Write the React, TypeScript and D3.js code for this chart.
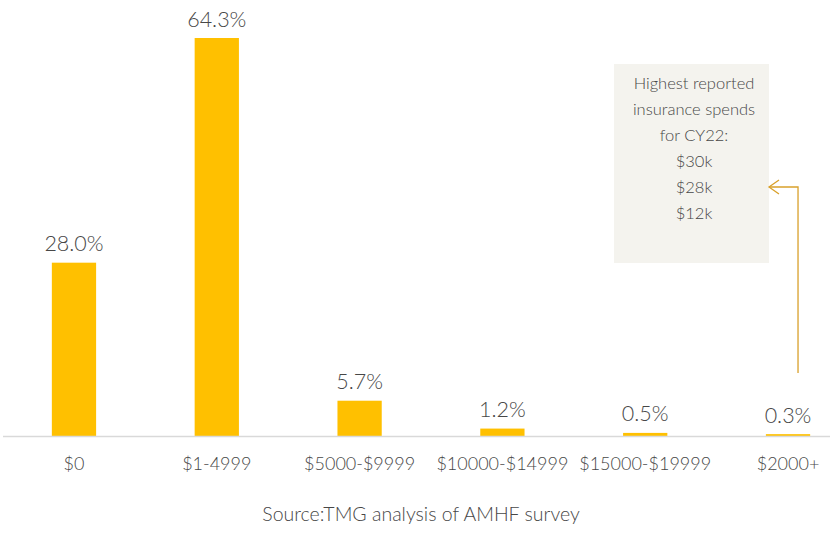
import React, { useEffect, useRef } from "react";
import * as d3 from "d3";

const categories = ["$0", "$1-4999", "$5000-$9999", "$10000-$14999", "$15000-$19999", "$2000+"];
const shares = [28.0, 64.3, 5.7, 1.2, 0.5, 0.3];
const noteLines = ["Highest reported", "insurance spends", "for CY22:", "$30k", "$28k", "$12k"];
const sourceText = "Source:TMG analysis of AMHF survey";

const width = 830;
const height = 533;
const baseY = 436;
const font = "Lato, 'Open Sans', sans-serif";
const textColor = "#474747";

function App() {
  const ref = useRef<SVGSVGElement>(null);

  useEffect(() => {
    const svg = d3.select(ref.current);
    svg.selectAll("*").remove();

    // x band scale for bars
    const x = d3
      .scaleBand()
      .domain(categories)
      .range([8, 854])
      .paddingInner(0.69)
      .paddingOuter(0.307);

    const y = d3.scaleLinear().domain([0, 64.3]).range([baseY, 38]);

    // bars
    svg
      .selectAll(".bar")
      .data(shares)
      .join("rect")
      .attr("class", "bar")
      .attr("x", (d, i) => x(categories[i]))
      .attr("y", (d) => y(d))
      .attr("width", x.bandwidth())
      .attr("height", (d) => baseY - y(d))
      .attr("fill", "#ffc000");

    // value labels
    svg
      .selectAll(".val")
      .data(shares)
      .join("text")
      .attr("class", "val")
      .attr("x", (d, i) => x(categories[i]) + x.bandwidth() / 2)
      .attr("y", (d) => y(d) - 11.5)
      .attr("text-anchor", "middle")
      .attr("font-size", 21.5)
      .attr("font-weight", 300)
      .attr("font-family", font)
      .attr("fill", textColor)
      .text((d) => d.toFixed(1) + "%");

    // baseline
    svg
      .append("line")
      .attr("x1", 3)
      .attr("x2", width)
      .attr("y1", baseY + 0.5)
      .attr("y2", baseY + 0.5)
      .attr("stroke", "#d9d9d9")
      .attr("stroke-width", 1.5);

    // category labels
    svg
      .selectAll(".cat")
      .data(categories)
      .join("text")
      .attr("class", "cat")
      .attr("x", (d) => x(d) + x.bandwidth() / 2)
      .attr("y", 470)
      .attr("text-anchor", "middle")
      .attr("font-size", 18)
      .attr("font-weight", 300)
      .attr("font-family", font)
      .attr("fill", textColor)
      .text((d) => d);

    // source
    svg
      .append("text")
      .attr("x", 421)
      .attr("y", 521)
      .attr("text-anchor", "middle")
      .attr("font-size", 19.5)
      .attr("font-weight", 300)
      .attr("font-family", font)
      .attr("fill", textColor)
      .text(sourceText);

    // note box
    svg
      .append("rect")
      .attr("x", 614)
      .attr("y", 64)
      .attr("width", 155)
      .attr("height", 199)
      .attr("fill", "#f4f3ee");

    svg
      .selectAll(".note")
      .data(noteLines)
      .join("text")
      .attr("class", "note")
      .attr("x", 694)
      .attr("y", (d, i) => 89 + i * 26)
      .attr("text-anchor", "middle")
      .attr("font-size", 16.5)
      .attr("font-weight", 300)
      .attr("font-family", font)
      .attr("fill", textColor)
      .text((d) => d);

    // arrow from last bar to the box
    const lastX = x(categories[5]) + x.bandwidth() / 2 + 10;
    svg
      .append("path")
      .attr("d", `M${lastX},373 V187 H769`)
      .attr("fill", "none")
      .attr("stroke", "#d9a12b")
      .attr("stroke-width", 1.3);
    svg
      .append("path")
      .attr("d", `M779,180 L769,187 L779,194`)
      .attr("fill", "none")
      .attr("stroke", "#d9a12b")
      .attr("stroke-width", 1.3);
  }, []);

  return (
    <svg
      ref={ref}
      width={width}
      height={height}
      style={{ position: "absolute", left: 0, top: 0, background: "#fff" }}
    />
  );
}

export default App;
